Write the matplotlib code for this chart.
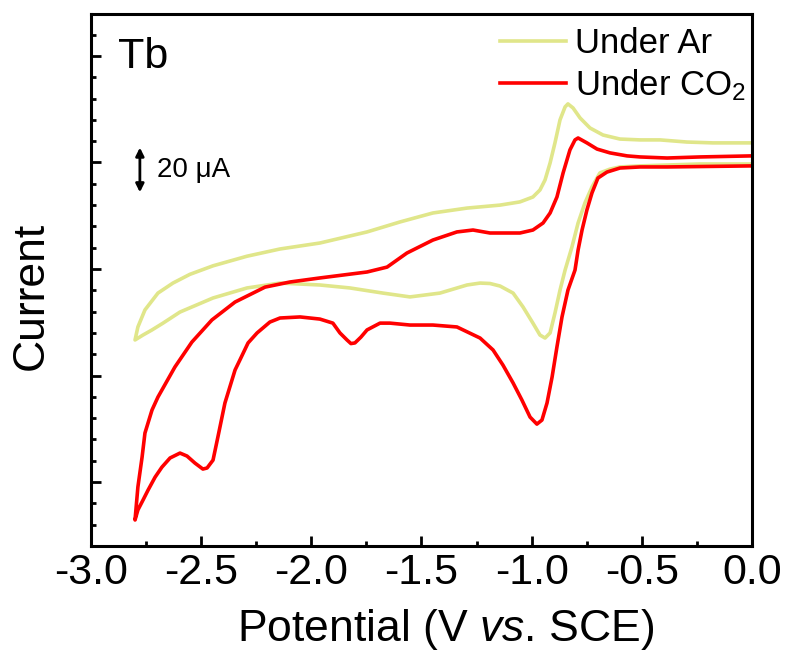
import matplotlib.pyplot as plt
from matplotlib.ticker import MultipleLocator

# cyclic voltammograms, potential in V vs. SCE, current in uA (offset arbitrary)
# under Ar: cathodic sweep 0 -> -2.8 V, then anodic sweep back to 0 V
ar_cath_v = [0.0, -0.236, -0.508, -0.599, -0.644, -0.690, -0.726, -0.758, -0.789,
             -0.817, -0.848, -0.871, -0.894, -0.916, -0.939, -0.962, -0.994, -1.039,
             -1.084, -1.143, -1.189, -1.234, -1.293, -1.416, -1.552, -1.675, -1.824,
             -1.961, -2.142, -2.292, -2.446, -2.596, -2.673, -2.723, -2.764, -2.80]
ar_cath_i = [149.3, 149.3, 148.4, 147.9, 146.9, 145.1, 138.5, 131.0, 121.6,
             110.3, 99.5, 90.1, 79.3, 70.0, 67.6, 69.0, 74.6, 82.2,
             88.7, 92.0, 93.2, 93.4, 92.5, 88.7, 86.9, 88.7, 91.1,
             92.5, 93.4, 91.1, 86.4, 79.8, 74.6, 71.4, 69.0, 66.7]
ar_anod_v = [-2.80, -2.787, -2.755, -2.696, -2.628, -2.551, -2.446, -2.292, -2.142,
             -1.961, -1.747, -1.597, -1.448, -1.293, -1.143, -1.053, -0.994, -0.962,
             -0.939, -0.916, -0.894, -0.871, -0.848, -0.835, -0.812, -0.780, -0.735,
             -0.676, -0.599, -0.508, -0.417, -0.295, -0.177, 0.0]
ar_anod_i = [66.7, 72.8, 80.8, 88.7, 93.4, 97.5, 101.5, 106.0, 109.4,
             112.2, 117.4, 122.1, 126.3, 128.6, 130.0, 131.5, 133.8, 137.1,
             141.8, 149.8, 159.2, 170.0, 176.1, 177.5, 175.6, 170.9, 166.2,
             162.9, 161.0, 160.6, 160.6, 159.6, 159.2, 159.2]

# under CO2
co2_cath_v = [0.0, -0.385, -0.508, -0.599, -0.658, -0.699, -0.726, -0.749, -0.771,
              -0.789, -0.803, -0.835, -0.862, -0.885, -0.907, -0.930, -0.953, -0.976,
              -1.007, -1.044, -1.084, -1.130, -1.175, -1.234, -1.339, -1.448, -1.552,
              -1.643, -1.688, -1.747, -1.775, -1.802, -1.820, -1.838, -1.870, -1.902,
              -1.961, -2.051, -2.142, -2.188, -2.246, -2.287, -2.324, -2.346, -2.392,
              -2.424, -2.446, -2.473, -2.492, -2.528, -2.564, -2.596, -2.641, -2.678,
              -2.709, -2.741, -2.764, -2.787, -2.80]
co2_cath_i = [148.4, 147.9, 147.9, 147.4, 145.5, 142.7, 135.7, 127.7, 118.3,
              108.9, 99.5, 90.1, 77.5, 63.4, 49.3, 37.1, 29.1, 27.2,
              30.5, 38.5, 46.5, 54.9, 62.0, 67.6, 72.8, 73.7, 73.7,
              74.6, 74.6, 71.4, 68.0, 65.3, 65.0, 66.7, 70.0, 74.6,
              76.5, 77.5, 77.0, 75.1, 70.0, 65.3, 57.3, 52.6, 37.1,
              21.1, 10.3, 6.6, 6.1, 8.9, 12.2, 13.6, 11.3, 7.0,
              2.3, -3.8, -8.5, -13.1, -17.8]
co2_anod_v = [-2.80, -2.787, -2.768, -2.755, -2.723, -2.696, -2.619, -2.542, -2.451,
              -2.346, -2.210, -2.097, -1.961, -1.747, -1.656, -1.566, -1.448, -1.339,
              -1.266, -1.189, -1.112, -1.053, -0.994, -0.948, -0.916, -0.885, -0.857,
              -0.826, -0.803, -0.789, -0.749, -0.703, -0.644, -0.567, -0.508, -0.385,
              -0.236, 0.0]
co2_anod_i = [-17.8, -2.3, 11.7, 23.0, 33.8, 39.9, 54.0, 65.7, 76.1,
              84.5, 91.5, 93.9, 95.8, 98.6, 100.9, 107.5, 113.6, 117.4,
              118.3, 116.9, 116.9, 116.9, 118.3, 121.6, 126.3, 133.8, 145.1,
              155.9, 160.6, 161.5, 159.2, 156.3, 154.5, 153.1, 152.6, 152.1,
              152.6, 153.1]

labels = ["Under Ar", "Under CO$_2$"]
colors = ["#E0E68A", "#FF0000"]


def plot_cv() -> None:
    plt.rcParams["font.family"] = ["Liberation Sans", "DejaVu Sans"]
    plt.rcParams["mathtext.fontset"] = "custom"
    plt.rcParams["mathtext.rm"] = "Liberation Sans"
    plt.rcParams["mathtext.it"] = "Liberation Sans:italic"

    fig = plt.figure(figsize=(7.89, 6.57), dpi=100)
    ax = fig.add_axes([0.1153, 0.169, 0.8377, 0.8097])

    ax.plot(ar_cath_v + ar_anod_v, ar_cath_i + ar_anod_i,
            color=colors[0], lw=2.6, label=labels[0], solid_joinstyle="round")
    ax.plot(co2_cath_v + co2_anod_v, co2_cath_i + co2_anod_i,
            color=colors[1], lw=2.6, label=labels[1], solid_joinstyle="round")

    ax.set_xlim(-3.0, 0.0)
    ax.set_ylim(-30.0, 219.7)
    ax.xaxis.set_major_locator(MultipleLocator(0.5))
    ax.xaxis.set_minor_locator(MultipleLocator(0.25))
    ax.yaxis.set_major_locator(MultipleLocator(50))
    ax.yaxis.set_minor_locator(MultipleLocator(10))
    ax.tick_params(which="both", direction="in", top=False, right=False,
                   labelleft=False, width=2.0)
    ax.tick_params(which="major", length=7, labelsize=31, pad=5)
    ax.tick_params(which="minor", length=3.5)
    ax.set_xticklabels([f"{t:.1f}" for t in ax.get_xticks()])
    for s in ax.spines.values():
        s.set_linewidth(2.2)

    ax.set_xlabel("Potential (V $\\mathit{vs}$. SCE)", fontsize=32,
                  labelpad=10, x=0.536)
    ax.set_ylabel("Current", fontsize=32, labelpad=28, y=0.47)

    ax.text(-2.877, 194.4, "Tb", fontsize=31, va="baseline")

    # 20 uA scale bar
    ax.annotate("", xy=(-2.778, 157.0), xytext=(-2.778, 136.0),
                arrowprops=dict(arrowstyle="<|-|>", color="black", lw=2.0,
                                mutation_scale=12, shrinkA=0, shrinkB=0))
    ax.text(-2.70, 146.5, "20 \u03bcA", fontsize=20, va="center")

    ax.legend(loc="upper right", bbox_to_anchor=(1.012, 1.001), frameon=False,
              fontsize=25, handlelength=1.9, handletextpad=0.25,
              labelspacing=0.2, borderaxespad=0.0)

    fig.savefig("out.png", dpi=100)


if __name__ == "__main__":
    plot_cv()
